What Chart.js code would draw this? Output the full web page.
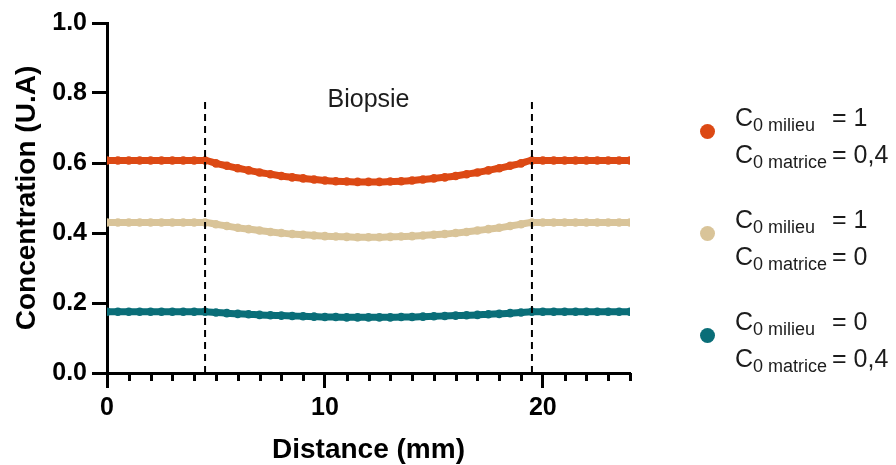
<!DOCTYPE html>
<html>
<head>
<meta charset="utf-8">
<script src="https://cdn.jsdelivr.net/npm/chart.js@4"></script>
<style>
  html, body { margin: 0; padding: 0; background: #fff; }
  #wrap { position: relative; width: 896px; height: 465px; }
  #chart { position: absolute; left: 0; top: 0; }
  .entry { position: absolute; left: 700px; font-family: "Liberation Sans", Arial, sans-serif; color: #1c1c1c; }
  .dot { position: absolute; left: 0; width: 15px; height: 15px; border-radius: 50%; }
  .ln { position: absolute; left: 35px; white-space: nowrap; font-size: 25px; line-height: 37px; }
  .ln .c { display: inline-block; width: 97px; }
  .ln sub { font-size: 18px; line-height: 0; vertical-align: -5px; }
</style>
</head>
<body>
<div id="wrap">
  <canvas id="chart" width="896" height="465"></canvas>
  <div id="legend"></div>
</div>
<script>
// distance (mm)
const distance = [0, 0.5, 1, 1.5, 2, 2.5, 3, 3.5, 4, 4.5, 5, 5.5, 6, 6.5, 7, 7.5, 8, 8.5, 9, 9.5, 10, 10.5, 11, 11.5, 12,
  12.5, 13, 13.5, 14, 14.5, 15, 15.5, 16, 16.5, 17, 17.5, 18, 18.5, 19, 19.5, 20, 20.5, 21, 21.5, 22, 22.5, 23, 23.5, 24];

// C0 milieu = 1, C0 matrice = 0,4
const concOrange = [0.607, 0.607, 0.607, 0.607, 0.607, 0.607, 0.607, 0.607, 0.607, 0.607,
  0.599, 0.592, 0.585, 0.579, 0.573, 0.568, 0.563, 0.559, 0.556, 0.553, 0.550, 0.548, 0.547, 0.546, 0.546,
  0.546, 0.547, 0.548, 0.550, 0.553, 0.556, 0.559, 0.563, 0.568, 0.573, 0.579, 0.585, 0.592, 0.599,
  0.607, 0.607, 0.607, 0.607, 0.607, 0.607, 0.607, 0.607, 0.607, 0.607];
// C0 milieu = 1, C0 matrice = 0
const concBeige = [0.430, 0.430, 0.430, 0.430, 0.430, 0.430, 0.430, 0.430, 0.430, 0.430,
  0.425, 0.420, 0.415, 0.411, 0.407, 0.403, 0.400, 0.397, 0.395, 0.393, 0.391, 0.390, 0.389, 0.388, 0.388,
  0.388, 0.389, 0.390, 0.391, 0.393, 0.395, 0.397, 0.400, 0.403, 0.407, 0.411, 0.415, 0.420, 0.425,
  0.430, 0.430, 0.430, 0.430, 0.430, 0.430, 0.430, 0.430, 0.430, 0.430];
// C0 milieu = 0, C0 matrice = 0,4
const concTeal = [0.175, 0.175, 0.175, 0.175, 0.175, 0.175, 0.175, 0.175, 0.175, 0.175,
  0.173, 0.171, 0.169, 0.168, 0.166, 0.165, 0.164, 0.163, 0.162, 0.161, 0.160, 0.160, 0.159, 0.159, 0.159,
  0.159, 0.159, 0.160, 0.160, 0.161, 0.162, 0.163, 0.164, 0.165, 0.166, 0.168, 0.169, 0.171, 0.173,
  0.175, 0.175, 0.175, 0.175, 0.175, 0.175, 0.175, 0.175, 0.175, 0.175];

const milieuValues = ['1', '1', '0'];
const matriceValues = ['0,4', '0', '0,4'];
const seriesColors = ['#dc4914', '#d9c499', '#0a6e78'];

// biopsy limits and label
const biopsyLimits = [4.5, 19.5];
const biopsyTop = 0.786;
const biopsyLabel = 'Biopsie';
const biopsyLabelPos = { x: 12, y: 0.78 };

const yTicks = [0, 0.2, 0.4, 0.6, 0.8, 1.0];
const xMajor = [0, 10, 20];

const FONT = '"Liberation Sans", Arial, sans-serif';

function toPoints(ys) {
  return distance.map((d, i) => ({ x: d, y: ys[i] }));
}

const curves = [concOrange, concBeige, concTeal].map((ys, i) => ({
  label: 'C0 milieu = ' + milieuValues[i] + ', C0 matrice = ' + matriceValues[i],
  data: toPoints(ys),
  borderColor: seriesColors[i],
  backgroundColor: seriesColors[i],
  borderWidth: 7,
  pointRadius: 4.3,
  pointBorderWidth: 0,
  cubicInterpolationMode: 'monotone',
  order: 1
}));

const dashed = biopsyLimits.map(x => ({
  label: 'limit',
  data: [{ x: x, y: 0 }, { x: x, y: biopsyTop }],
  borderColor: '#000',
  borderWidth: 2,
  borderDash: [7, 5],
  pointRadius: 0,
  order: 0
}));

// petites graduations + texte "Biopsie"
const extras = {
  id: 'extras',
  afterDatasetsDraw(chart) {
    const ctx = chart.ctx;
    const xs = chart.scales.x;
    const ys = chart.scales.y;
    ctx.save();
    ctx.strokeStyle = '#000';
    ctx.lineWidth = 3;
    for (let v = 1; v <= 24; v++) {
      if (v % 10 === 0) continue;
      const px = Math.round(xs.getPixelForValue(v)) + 0.5;
      ctx.beginPath();
      ctx.moveTo(px, ys.bottom);
      ctx.lineTo(px, ys.bottom + 8);
      ctx.stroke();
    }
    ctx.fillStyle = '#1c1c1c';
    ctx.font = '25px ' + FONT;
    ctx.textAlign = 'center';
    ctx.textBaseline = 'middle';
    ctx.fillText(biopsyLabel, xs.getPixelForValue(biopsyLabelPos.x), ys.getPixelForValue(biopsyLabelPos.y));
    ctx.restore();
  }
};

const ctx = document.getElementById('chart').getContext('2d');
new Chart(ctx, {
  type: 'line',
  data: { datasets: [...dashed, ...curves] },
  options: {
    responsive: false,
    animation: false,
    layout: { padding: { left: 0, right: 266, top: 23, bottom: 0 } },
    plugins: { legend: { display: false }, tooltip: { enabled: false } },
    scales: {
      x: {
        type: 'linear',
        min: 0,
        max: 24,
        afterFit(scale) { scale.height = 92; },
        afterBuildTicks(scale) { scale.ticks = xMajor.map(v => ({ value: v })); },
        border: { color: '#000', width: 3 },
        grid: { drawOnChartArea: false, color: '#000', tickLength: 15, tickWidth: 3, tickColor: '#000' },
        ticks: { color: '#000', font: { family: FONT, size: 25, weight: 'bold' }, padding: 5, maxRotation: 0 },
        title: { display: true, text: 'Distance (mm)', color: '#000', font: { family: FONT, size: 28, weight: 'bold', lineHeight: 1.07 }, padding: 0 }
      },
      y: {
        min: 0,
        max: 1,
        afterFit(scale) { scale.width = 107; },
        afterBuildTicks(scale) { scale.ticks = yTicks.map(v => ({ value: v })); },
        border: { color: '#000', width: 3 },
        grid: { drawOnChartArea: false, color: '#000', tickLength: 15, tickWidth: 3, tickColor: '#000' },
        ticks: { color: '#000', font: { family: FONT, size: 25, weight: 'bold' }, padding: 5, callback: v => v.toFixed(1) },
        title: { display: true, text: 'Concentration (U.A)', color: '#000', font: { family: FONT, size: 28, weight: 'bold', lineHeight: 1.95 }, padding: 0 }
      }
    }
  },
  plugins: [extras]
});

// légende HTML (indices)
const legend = document.getElementById('legend');
const entryTops = [99, 201, 303];
seriesColors.forEach((c, i) => {
  const e = document.createElement('div');
  e.className = 'entry';
  e.style.top = entryTops[i] + 'px';
  e.innerHTML =
    '<div class="dot" style="top:25px;background:' + c + '"></div>' +
    '<div class="ln" style="top:0"><span class="c">C<sub>0 milieu</sub></span>= ' + milieuValues[i] + '</div>' +
    '<div class="ln" style="top:37px"><span class="c">C<sub>0 matrice</sub></span>= ' + matriceValues[i] + '</div>';
  legend.appendChild(e);
});
</script>
</body>
</html>
